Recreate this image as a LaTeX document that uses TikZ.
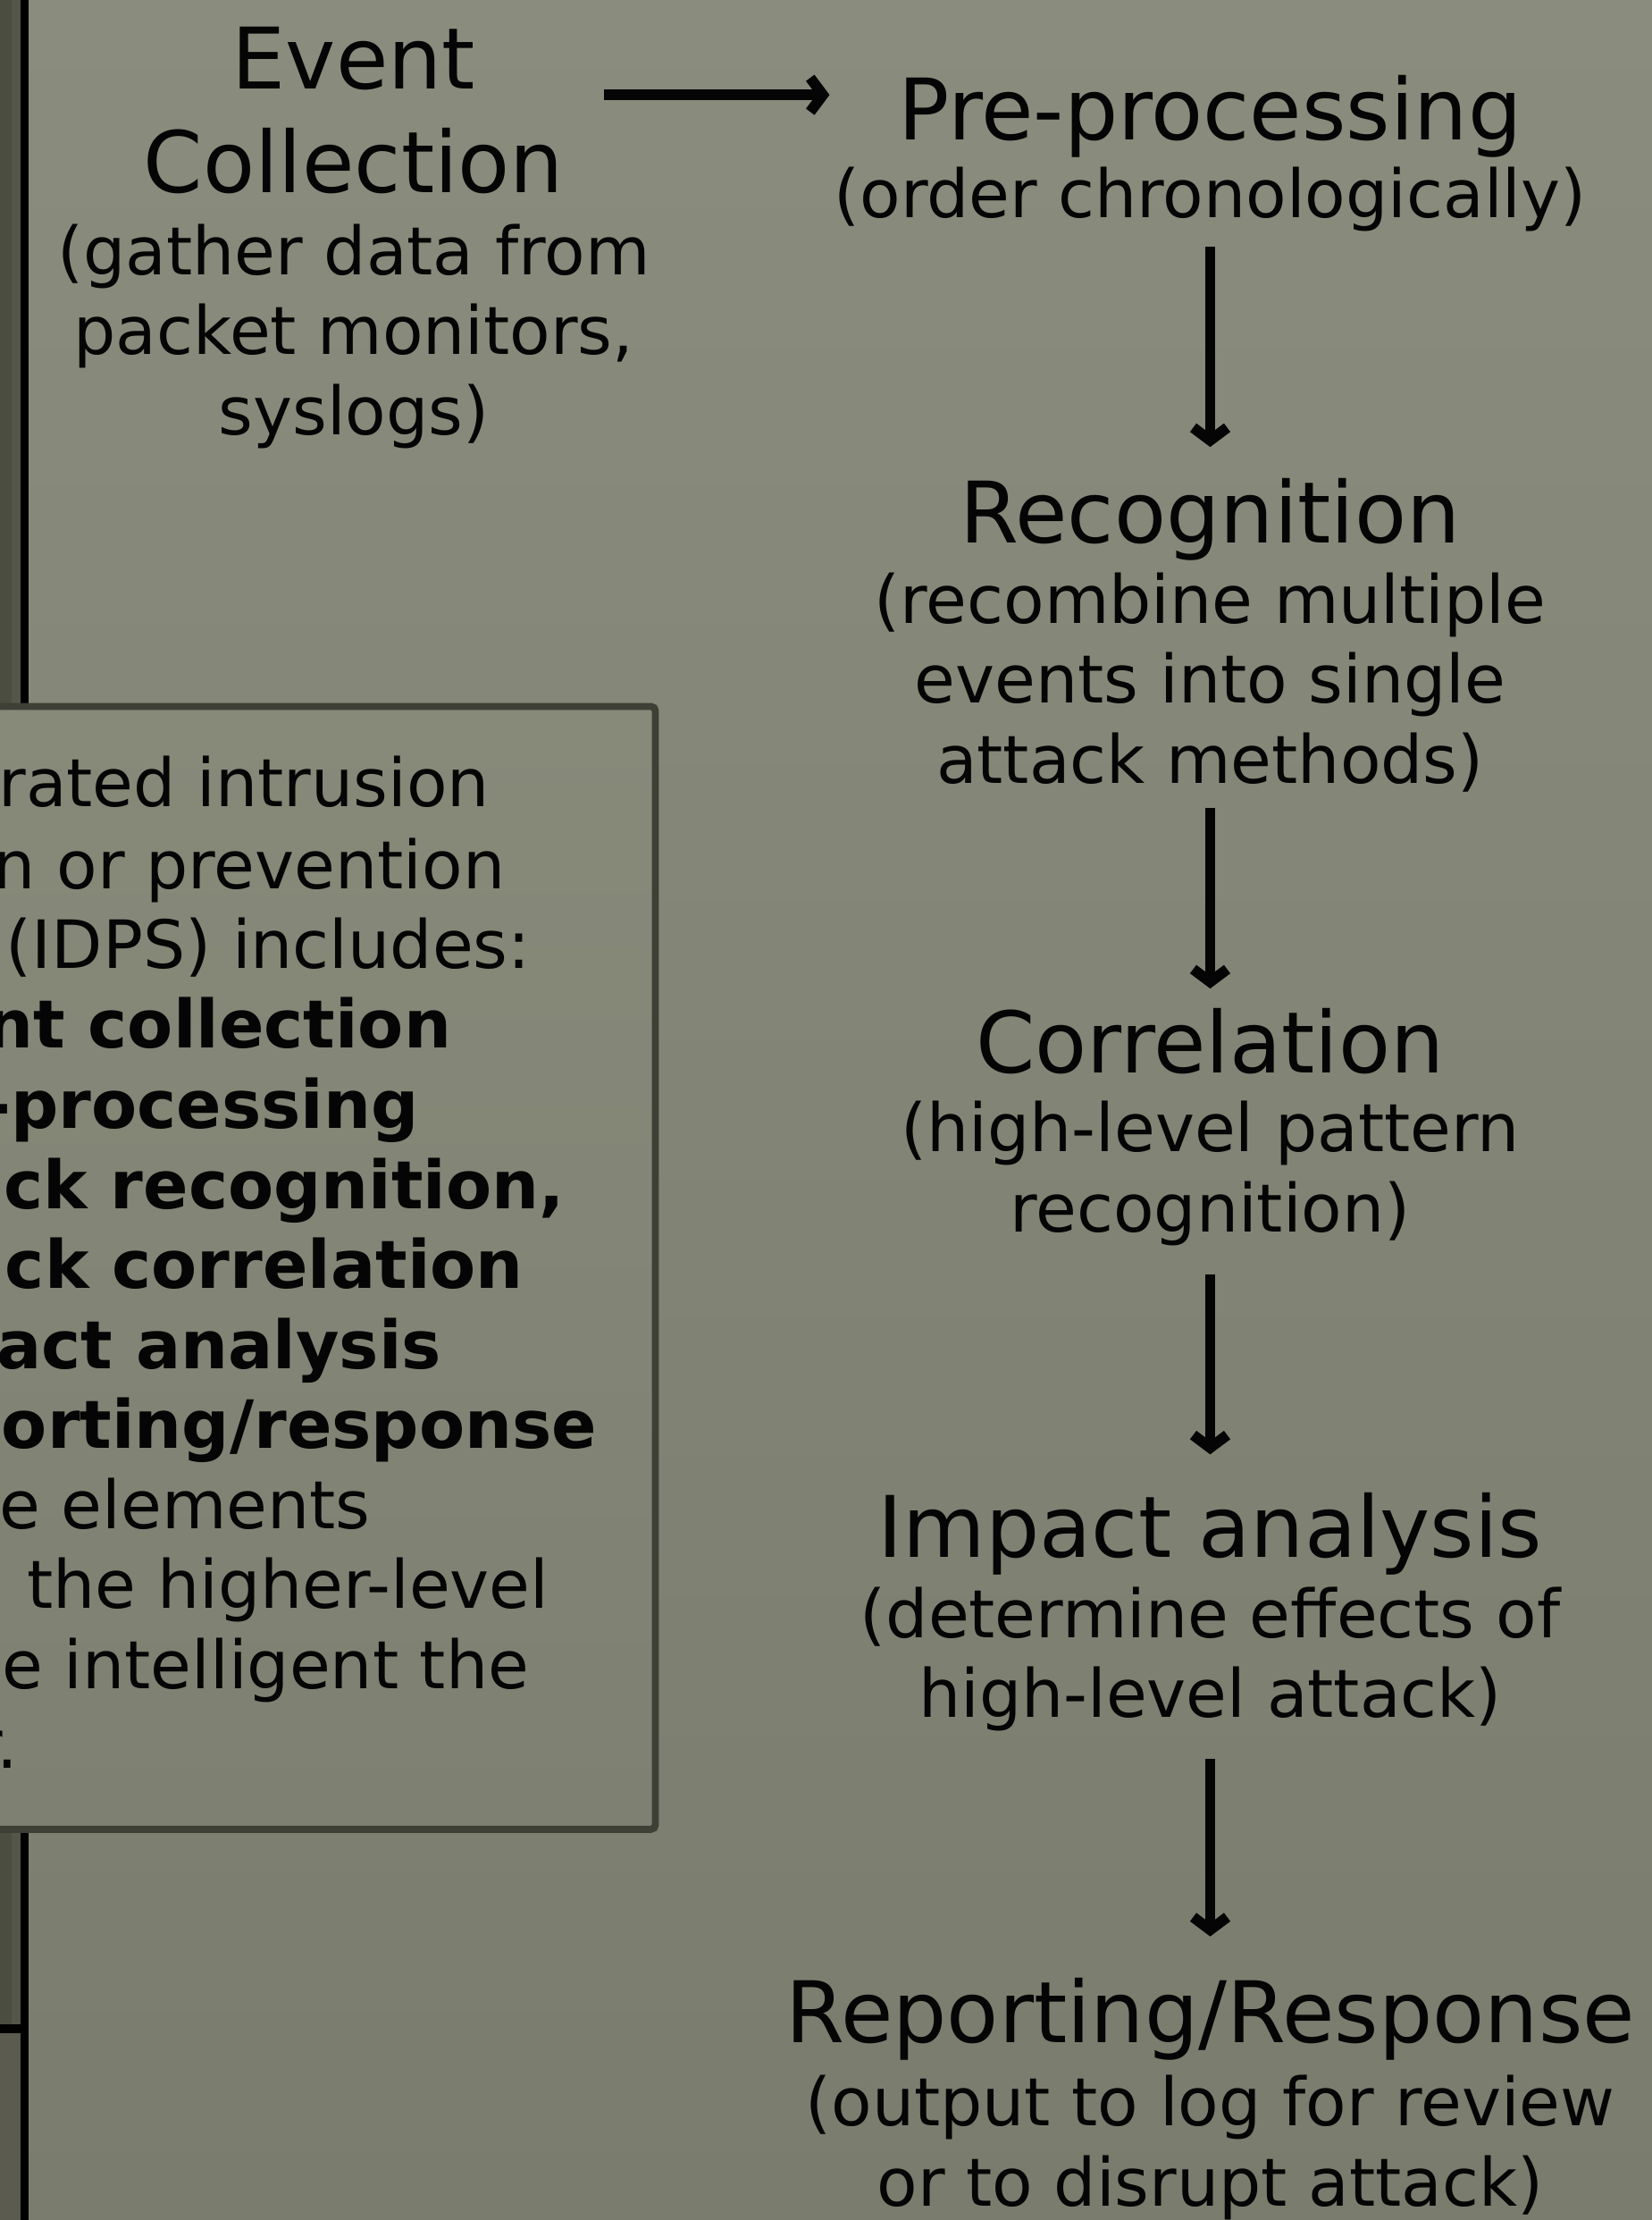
\documentclass[tikz,border=0pt]{standalone}
\usepackage{fontspec}
\setmainfont{DejaVu Sans}
\usetikzlibrary{arrows.meta,calc}
\definecolor{bgtop}{HTML}{8A8C7D}
\definecolor{bgbot}{HTML}{7A7C6E}
\definecolor{stripdark}{HTML}{4C4D41}
\definecolor{striplight}{HTML}{55564A}
\definecolor{striplow}{HTML}{5B5C4F}
\definecolor{boxedge}{HTML}{3E3F35}
\definecolor{boxtop}{HTML}{878979}
\definecolor{boxbot}{HTML}{7E8072}
\definecolor{ink}{HTML}{050505}
\newcommand\titlef{\fontsize{60}{72}\selectfont}
\newcommand\subf{\fontsize{47}{56.5}\selectfont}
\begin{document}
\begin{tikzpicture}[x=1pt,y=-1pt,
  blk/.style={align=center,inner sep=0pt,anchor=base,font=\subf,text=ink},
  boxline/.style={anchor=base east,inner sep=0pt,font=\subf,text=ink},
  boldline/.style={boxline,font=\subf\bfseries},
  arr/.style={draw=ink,line width=7.5pt,-{Straight Barb[length=9pt,width=24pt]}}
]
\useasboundingbox (0,0) rectangle (1167,1568);
\begin{scope}
\clip (0,0) rectangle (1167,1568);
% background
\shade[top color=bgtop,bottom color=bgbot] (0,0) rectangle (1167,1568);
% left strip
\fill[stripdark] (0,0) rectangle (8,1432);
\fill[striplight] (8,0) rectangle (14.5,1432);
\fill[striplow] (0,1432) rectangle (14.5,1568);
\fill[black] (0,1430) rectangle (14.5,1436);
\fill[black] (14.5,0) rectangle (20.2,1568);
% text box
\shade[top color=boxtop,bottom color=boxbot,rounded corners=3pt] (-40,499) rectangle (463,1292);
\draw[boxedge,line width=5pt,rounded corners=3pt] (-40,499) rectangle (463,1292);
\node[boxline] (b1) at (346,570) {rated intrusion};
\node[boxline] (b2) at (357,628) {n or prevention};
\node[boxline] (b3) at (375,684) {(IDPS) includes:};
\node[boldline] (b4) at (319,740) {nt collection};
\node[boldline] (b5) at (296,797) {-processing};
\node[boldline] (b6) at (399,854) {ck recognition,};
\node[boldline] (b7) at (370,910) {ck correlation};
\node[boldline] (b8) at (312,967) {act analysis};
\node[boldline] (b9) at (422,1023) {orting/response};
\node[boxline] (b10) at (262,1080) {e elements};
\node[boxline] (b11) at (388,1136) {the higher-level};
\node[boxline] (b12) at (374,1193) {e intelligent the};
\node[boxline] (b13) at (13,1249) {r.};
% flow blocks (anchor base = baseline of last line)
\node[blk] (ev) at (250,307) {\titlef Event\\[16.5pt]\titlef Collection\\[1.5pt](gather data from\\packet monitors,\\syslogs)};
\node[blk] (pre) at (855,154) {\titlef Pre-processing\\[-1pt](order chronologically)};
\node[blk] (rec) at (855,553) {\titlef Recognition\\(recombine multiple\\events into single\\attack methods)};
\node[blk] (cor) at (855,870) {\titlef Correlation\\[-1pt](high-level pattern\\recognition)};
\node[blk] (imp) at (855,1213) {\titlef Impact analysis\\(determine effects of\\high-level attack)};
\node[blk] (rep) at (855,1558) {\titlef Reporting/Response\\[2.5pt](output to log for review\\or to disrupt attack)};
% connectors
\coordinate (evout) at (427,67);
\draw[arr,shorten >=3pt] (evout) -- (pre.west |- evout);
\draw[arr,shorten <=10pt,shorten >=22pt] (pre.south) -- (rec.north);
\draw[arr,shorten <=11pt,shorten >=14pt] (rec.south) -- (cor.north);
\draw[arr,shorten <=20pt,shorten >=27pt] (cor.south) -- (imp.north);
\draw[arr,shorten <=19pt,shorten >=29pt] (imp.south) -- (rep.north);
\end{scope}
\end{tikzpicture}
\end{document}
